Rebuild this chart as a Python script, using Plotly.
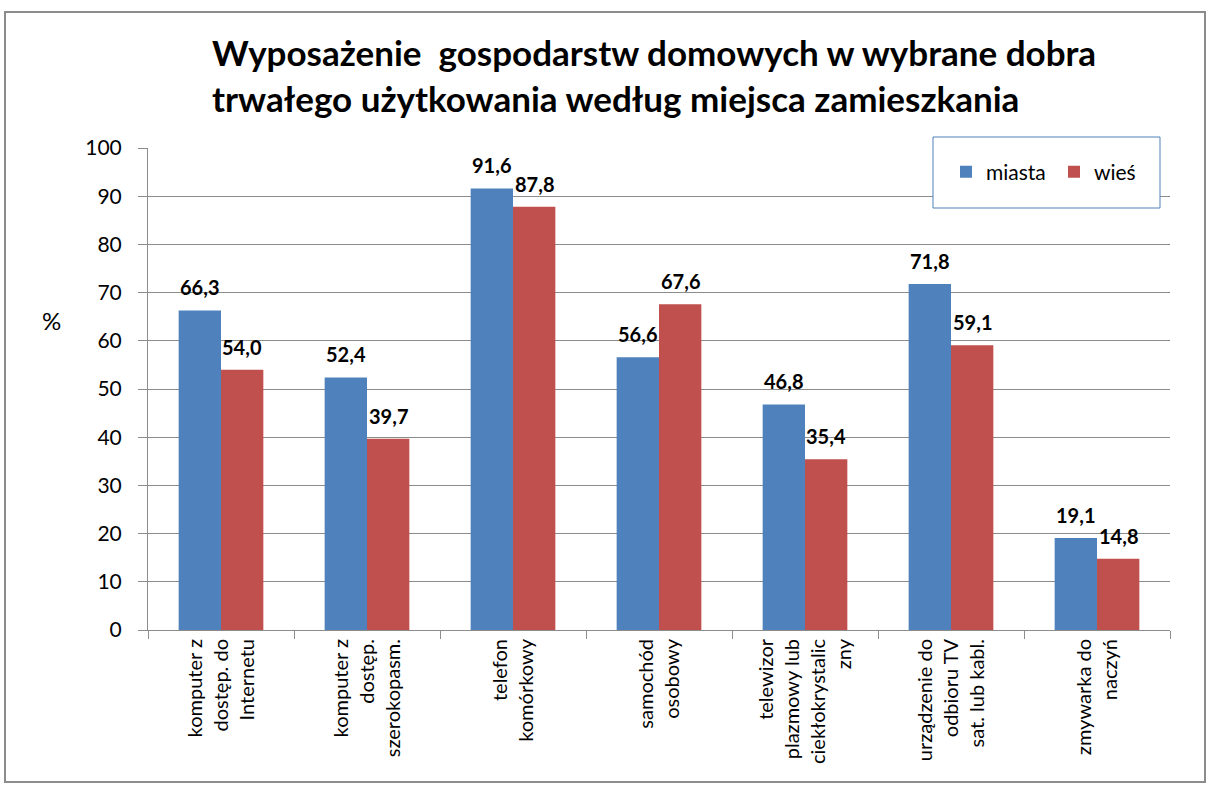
import plotly.graph_objects as go

categories = [
    "komputer z<br>dostęp. do<br>Internetu",
    "komputer z<br>dostęp.<br>szerokopasm.",
    "telefon<br>komórkowy",
    "samochód<br>osobowy",
    "telewizor<br>plazmowy lub<br>ciekłokrystalic<br>zny",
    "urządzenie do<br>odbioru TV<br>sat. lub kabl.",
    "zmywarka do<br>naczyń",
]
miasta = [66.3, 52.4, 91.6, 56.6, 46.8, 71.8, 19.1]
wies = [54.0, 39.7, 87.8, 67.6, 35.4, 59.1, 14.8]
y_ticks = list(range(0, 101, 10))

FONT = "Lato, 'Open Sans', 'DejaVu Sans', sans-serif"
BLUE, RED, GREY = "#4F81BD", "#C0504D", "#8c8c8c"
W, H = 1211, 787
ML, MR, MT, MB = 148, 41, 148, 157
PW, PH = W - ML - MR, H - MT - MB
BAR_PX = PW / len(categories) * 0.58 / 2


def px(x):
    return (x - ML) / PW


def py(y):
    return (H - MB - y) / PH


def fmt(v):
    return f"{v:.1f}".replace(".", ",")


fig = go.Figure()
fig.add_trace(go.Bar(x=categories, y=miasta, name="miasta",
                     marker=dict(color=BLUE, line=dict(width=0))))
fig.add_trace(go.Bar(x=categories, y=wies, name="wieś",
                     marker=dict(color=RED, line=dict(width=0))))

# value labels above the bars
labels = []
for vals, shift in ((miasta, -BAR_PX / 2), (wies, BAR_PX / 2)):
    for cat, v in zip(categories, vals):
        labels.append(dict(
            x=cat, y=v, xref="x", yref="y", text=fmt(v), showarrow=False,
            xshift=shift, yshift=9, yanchor="bottom",
            font=dict(size=20, family=FONT, weight="bold", color="black"),
        ))

labels.append(dict(text="%", xref="paper", yref="paper", x=px(40), y=py(320),
                   showarrow=False, font=dict(size=24, family=FONT)))

fig.update_layout(
    width=W, height=H,
    margin=dict(l=ML, r=MR, t=MT, b=MB, autoexpand=False),
    paper_bgcolor="white", plot_bgcolor="white",
    font=dict(family=FONT, color="black"),
    barmode="group", bargap=0.42, bargroupgap=0,
    title=dict(
        text="Wyposażenie  gospodarstw domowych w wybrane dobra<br>trwałego użytkowania według miejsca zamieszkania",
        x=px(212), xanchor="left", xref="paper", y=1 - 66 / H, yanchor="middle",
        font=dict(size=35, family=FONT, weight="bold"),
    ),
    legend=dict(
        orientation="h", x=px(946), y=py(172), xanchor="left", yanchor="middle",
        font=dict(size=21, family=FONT), bgcolor="rgba(0,0,0,0)",
        itemwidth=30, entrywidth=63, traceorder="normal",
    ),
    shapes=[
        # outer chart frame
        dict(type="rect", xref="paper", yref="paper",
             x0=px(5), x1=px(1205), y0=py(782), y1=py(12),
             line=dict(color=GREY, width=2), layer="below"),
        # legend box
        dict(type="rect", xref="paper", yref="paper",
             x0=px(933), x1=px(1160), y0=py(208), y1=py(137),
             line=dict(color=BLUE, width=1), fillcolor="white", layer="above"),
    ],
    annotations=labels,
)
fig.update_xaxes(
    tickangle=-90, tickfont=dict(size=20, family=FONT),
    showline=True, linecolor=GREY, linewidth=1,
    ticks="outside", tickson="boundaries", ticklen=8, tickcolor=GREY,
    showgrid=False,
)
fig.update_yaxes(
    range=[0, 100], tickvals=y_ticks,
    tickfont=dict(size=21, family=FONT),
    showline=True, linecolor=GREY, linewidth=1,
    ticks="outside", ticklen=9, tickcolor=GREY, ticklabelstandoff=12,
    showgrid=True, gridcolor=GREY, gridwidth=1, zeroline=False,
)

# drop the default page margin so the 1211x787 figure fills the window exactly
fig.write_html("out.html", config={"displayModeBar": False},
               post_script="document.body.style.margin='0';")
